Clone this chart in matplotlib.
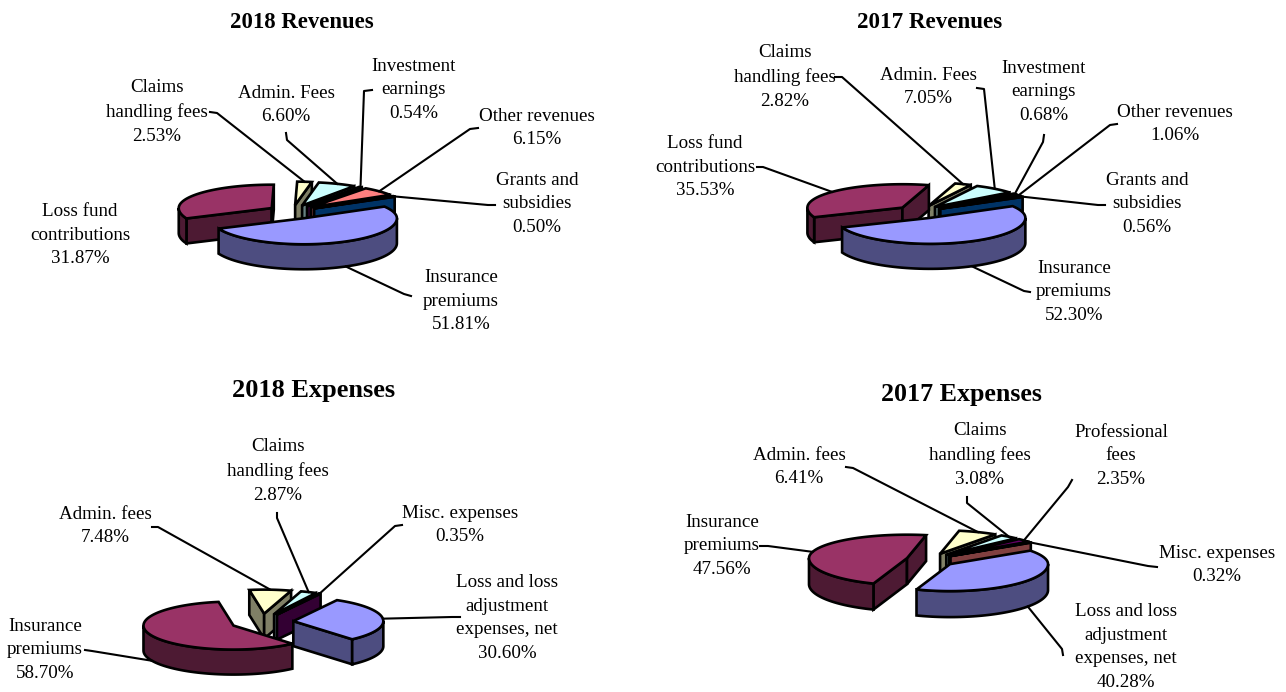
import numpy as np
import matplotlib
matplotlib.use("Agg")
import matplotlib.pyplot as plt
from matplotlib.patches import Polygon

plt.rcParams['font.family'] = ['Liberation Serif', 'DejaVu Serif']

# slice order is clockwise, starting with the big blue one
rev18_names = ["Insurance\npremiums", "Loss fund\ncontributions", "Claims\nhandling fees", "Admin. Fees",
               "Investment\nearnings", "Other revenues", "Grants and\nsubsidies"]
rev18_values = [51.81, 31.87, 2.53, 6.60, 0.54, 6.15, 0.50]

rev17_names = ["Insurance\npremiums", "Loss fund\ncontributions", "Claims\nhandling fees", "Admin. Fees",
               "Investment\nearnings", "Other revenues", "Grants and\nsubsidies"]
rev17_values = [52.30, 35.53, 2.82, 7.05, 0.68, 1.06, 0.56]

exp18_names = ["Loss and loss\nadjustment\nexpenses, net", "Insurance\npremiums", "Admin. fees",
               "Claims\nhandling fees", "Misc. expenses"]
exp18_values = [30.60, 58.70, 7.48, 2.87, 0.35]

exp17_names = ["Loss and loss\nadjustment\nexpenses, net", "Insurance\npremiums", "Admin. fees",
               "Claims\nhandling fees", "Professional\nfees", "Misc. expenses"]
exp17_values = [40.28, 47.56, 6.41, 3.08, 2.35, 0.32]

rev_colors = ["#9999FF", "#993366", "#FFFFCC", "#CCFFFF", "#660066", "#FF8080", "#0066CC"]
exp18_colors = ["#9999FF", "#993366", "#FFFFCC", "#CCFFFF", "#660066"]
exp17_colors = ["#9999FF", "#993366", "#FFFFCC", "#CCFFFF", "#660066", "#FF8080"]

# label centres, same order as the values
rev18_labels = [(461, 301), (80, 235), (157, 112), (286, 105), (414, 90), (537, 128), (537, 204)]
rev17_labels = [(1074, 292), (705, 167), (785, 77), (928, 87), (1044, 92), (1175, 124), (1147, 204)]
exp18_labels = [(507, 618), (45, 650), (105, 526), (278, 471), (460, 525)]
exp17_labels = [(1126, 647), (722, 546), (799, 467), (980, 455), (1121, 456), (1217, 565)]

# leader stub next to the label (start, elbow), None = no leader
rev18_leaders = [((411, 296), (404, 294)), None, ((210, 112), (217, 113)), ((286, 133), (287, 140)),
                 ((372, 90), (364, 91)), ((478, 128), (470, 129)), ((495, 205), (488, 205))]
rev17_leaders = [((1030, 292), (1024, 291)), ((757, 167), (763, 167)), ((835, 77), (842, 77)),
                 ((977, 88), (984, 89)), ((1044, 135), (1043, 142)), ((1117, 124), (1110, 125)),
                 ((1105, 205), (1098, 205))]
exp18_leaders = [((460, 617), (452, 617)), ((85, 650), (92, 651)), ((152, 527), (158, 527)),
                 ((277, 513), (277, 518)), ((402, 525), (395, 526))]
exp17_leaders = [((1063, 655), (1062, 649)), ((760, 546), (768, 546)), ((846, 467), (853, 468)),
                 ((967, 497), (967, 503)), ((1072, 480), (1068, 487)), ((1157, 567), (1148, 566))]

LW = 1.9

fig = plt.figure(figsize=(12.86, 6.92), dpi=100)
ax = fig.add_axes([0, 0, 1, 1])
ax.set_xlim(0, 1286)
ax.set_ylim(692, 0)
ax.axis('off')


def dark(c):
    return tuple(v * 0.5 for v in matplotlib.colors.to_rgb(c))


def draw_pie(names, values, colors, labels, leaders, cx, cy, rx, ry, depth, start, explode, back=0.9):
    total = sum(values)
    edges = start + np.concatenate([[0], np.cumsum(values)]) / total * 360
    mids = (edges[:-1] + edges[1:]) / 2
    apex = [(cx + explode * rx * np.sin(np.radians(m)), cy - explode * ry * np.cos(np.radians(m))) for m in mids]

    def rim(i, a):
        t = np.radians(a)
        c = np.cos(t)
        # the far half of the disc looks a bit flatter
        return np.column_stack([apex[i][0] + rx * np.sin(t), apex[i][1] - ry * c * np.where(c > 0, back, 1)])

    order = np.argsort(-np.cos(np.radians(mids)))
    for i in order:
        a1, a2 = edges[i], edges[i + 1]
        ax_, ay_ = apex[i]
        side = dark(colors[i])
        # flat faces of the cut
        for a, normal in ((a1, a1 - 90), (a2, a2 + 90)):
            if np.cos(np.radians(normal)) < 0:
                p = rim(i, np.array([a]))[0]
                ax.add_patch(Polygon([(ax_, ay_), p, (p[0], p[1] + depth), (ax_, ay_ + depth)],
                                     fc=side, ec='k', lw=LW, joinstyle='miter'))
        # round outer wall, only the front half shows
        for k in (0, 360):
            lo, hi = max(a1, 90 + k), min(a2, 270 + k)
            if hi > lo:
                pts = rim(i, np.linspace(lo, hi, 60))
                wall = np.vstack([pts, pts[::-1] + [0, depth]])
                ax.add_patch(Polygon(wall, fc=side, ec='k', lw=LW, joinstyle='miter'))
        top = np.vstack([[apex[i]], rim(i, np.linspace(a1, a2, 120))])
        ax.add_patch(Polygon(top, fc=colors[i], ec='k', lw=LW, joinstyle='miter'))

    for i in range(len(values)):
        if leaders[i] is not None:
            end = rim(i, np.array([mids[i]]))[0]
            if np.cos(np.radians(mids[i])) < 0:
                end = end + [0, depth]
            (x0, y0), (x1, y1) = leaders[i]
            ax.plot([x0, x1, end[0]], [y0, y1, end[1]], color='k', lw=1.5, zorder=1)
        ax.text(labels[i][0], labels[i][1], "%s\n%.2f%%" % (names[i], values[i]), ha='center', va='center',
                fontsize=13.7, linespacing=1.5, color='k', zorder=6)


draw_pie(rev18_names, rev18_values, rev_colors, rev18_labels, rev18_leaders, 292.6, 212, 93, 26, 25, 60, 0.27)
draw_pie(rev17_names, rev17_values, rev_colors, rev17_labels, rev17_leaders, 920, 212, 95, 26, 25, 60, 0.25)
draw_pie(exp18_names, exp18_values, exp18_colors, exp18_labels, exp18_leaders, 262, 622, 90, 24, 25, 29, 0.35, back=1.0)
draw_pie(exp17_names, exp17_values, exp17_colors, exp17_labels, exp17_leaders, 930.6, 560, 98, 27, 26, 55, 0.25, back=0.87)

ax.text(302, 23, "2018 Revenues", ha='center', va='center', fontsize=16.4, fontweight='bold')
ax.text(930, 23, "2017 Revenues", ha='center', va='center', fontsize=16.6, fontweight='bold')
ax.text(314, 391, "2018 Expenses", ha='center', va='center', fontsize=19, fontweight='bold')
ax.text(961, 394, "2017 Expenses", ha='center', va='center', fontsize=18.7, fontweight='bold')

fig.savefig("out.png", dpi=100)
